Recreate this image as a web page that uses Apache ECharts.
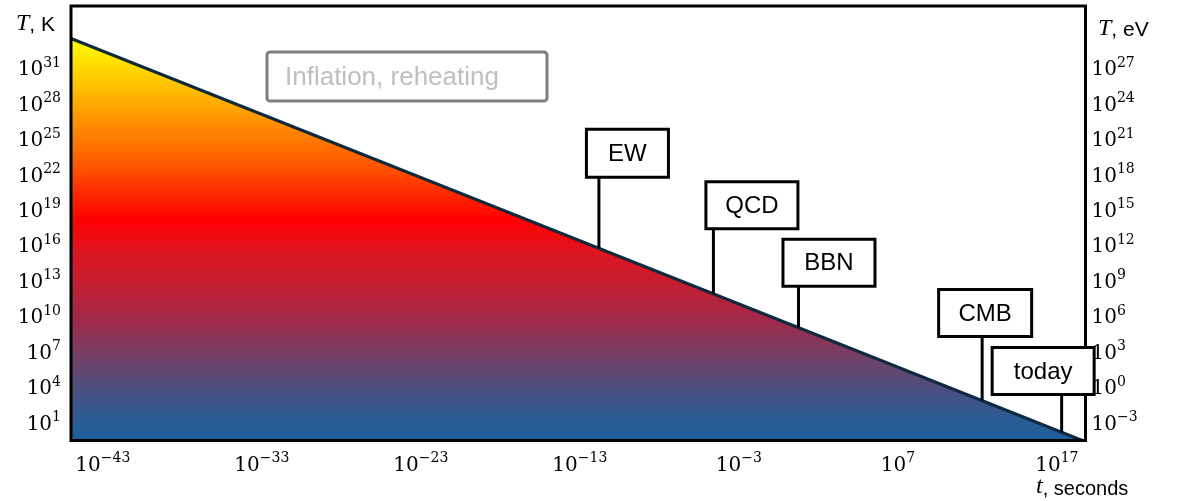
<!DOCTYPE html>
<html>
<head>
<meta charset="utf-8">
<script src="https://cdn.jsdelivr.net/npm/echarts@6/dist/echarts.min.js"></script>
<style>
html,body{margin:0;padding:0;background:#fff;}
#chart{width:1182px;height:501px;}
</style>
</head>
<body>
<div id="chart"></div>
<script>
// ---- data (exponents, log10) ----
const timeTicks = [-43, -33, -23, -13, -3, 7, 17];          // t, seconds
const tempKTicks = [1, 4, 7, 10, 13, 16, 19, 22, 25, 28, 31]; // T, K
const tempEVTicks = [-3, 0, 3, 6, 9, 12, 15, 18, 21, 24, 27]; // T, eV
const coolingTime = [-45, 18.6];     // log10 t
const coolingTemp = [33.5, -0.53];   // log10 T (K)
const eventNames = ['EW', 'QCD', 'BBN', 'CMB', 'today'];
const eventTime = [-11.8, -4.6, 0.75, 12.3, 17.3];
const eventTemp = [15.75, 11.9, 9.05, 2.86, 0.15];
const inflationLabel = 'Inflation, reheating';

// ---- layout / style (pixels) ----
const eventBoxes = [
  {dx: 12.5, w: 82, h: 48, stick: 71},
  {dx: 7.5,  w: 92, h: 47, stick: 65},
  {dx: 15.5, w: 92, h: 47, stick: 41},
  {dx: 43.5, w: 93, h: 47, stick: 64},
  {dx: 69.5, w: 102, h: 47, stick: 38}
];
const K_TO_EV_OFFSET = 4;
const yMin = -0.53, yMax = 36.25;

const sup = v => (v < 0 ? '\u2212' + Math.abs(v) : String(v));
const powLabel = v => '{b|10}{s|' + sup(Math.round(v)) + '}';
const rich = {
  b: {fontFamily: 'DejaVu Serif', fontSize: 20, lineHeight: 24, verticalAlign: 'bottom', color: '#000'},
  s: {fontFamily: 'DejaVu Serif', fontSize: 14, lineHeight: 14, verticalAlign: 'top', color: '#000'}
};

const chart = echarts.init(document.getElementById('chart'), null, {renderer: 'canvas'});

const gradient = new echarts.graphic.LinearGradient(0, 0, 0, 1, [
  {offset: 0.00, color: '#FFFF00'},
  {offset: 0.17, color: '#FFA500'},
  {offset: 0.31, color: '#FF5A00'},
  {offset: 0.45, color: '#FF0000'},
  {offset: 0.53, color: '#DE1420'},
  {offset: 0.62, color: '#C01E32'},
  {offset: 0.70, color: '#A0284A'},
  {offset: 0.79, color: '#744064'},
  {offset: 0.88, color: '#485082'},
  {offset: 0.95, color: '#2A5C96'},
  {offset: 1.00, color: '#1F5F9C'}
]);

chart.setOption({
  animation: false,
  backgroundColor: '#fff',
  grid: {
    left: 71, right: 96.5, top: 6, bottom: 60.5,
    show: true, z: 3, backgroundColor: 'transparent',
    borderColor: '#000', borderWidth: 3
  },
  xAxis: {
    type: 'value', min: -45, max: 18.8,
    axisLine: {show: false}, axisTick: {show: false}, splitLine: {show: false},
    axisLabel: {customValues: timeTicks, margin: 11, formatter: powLabel, rich: rich}
  },
  yAxis: [
    {
      type: 'value', min: yMin, max: yMax, position: 'left',
      axisLine: {show: false}, axisTick: {show: false}, splitLine: {show: false},
      axisLabel: {customValues: tempKTicks, margin: 10, formatter: powLabel, rich: rich}
    },
    {
      type: 'value', min: yMin - K_TO_EV_OFFSET, max: yMax - K_TO_EV_OFFSET, position: 'right',
      axisLine: {show: false}, axisTick: {show: false}, splitLine: {show: false},
      axisLabel: {customValues: tempEVTicks, margin: 6, formatter: powLabel, rich: rich}
    }
  ],
  series: [
    {
      type: 'line',
      data: coolingTime.map((t, i) => [t, coolingTemp[i]]),
      symbol: 'none',
      lineStyle: {color: '#0E2A3F', width: 3},
      areaStyle: {origin: 'start', color: gradient, opacity: 1},
      z: 2
    },
    {
      type: 'custom',
      z: 5,
      clip: false,
      data: eventTime.map((t, i) => [t, eventTemp[i]]),
      renderItem: function (params, api) {
        const p = api.coord([api.value(0), api.value(1)]);
        const L = eventBoxes[params.dataIndex];
        const boxBottom = p[1] - L.stick;
        const left = p[0] - L.dx;
        return {
          type: 'group',
          children: [
            {type: 'line', shape: {x1: p[0], y1: p[1], x2: p[0], y2: boxBottom},
             style: {stroke: '#000', lineWidth: 3}},
            {type: 'rect', shape: {x: left, y: boxBottom - L.h, width: L.w, height: L.h},
             style: {fill: '#fff', stroke: '#000', lineWidth: 3}},
            {type: 'text', style: {
              text: eventNames[params.dataIndex],
              x: left + L.w / 2, y: boxBottom - L.h / 2 + 1,
              align: 'center', verticalAlign: 'middle',
              font: '24px "Liberation Sans", Arial, sans-serif', fill: '#000'}}
          ]
        };
      }
    }
  ],
  graphic: [
    {
      type: 'group', left: 265.5, top: 50.5, z: 10,
      children: [
        {type: 'rect', shape: {x: 0, y: 0, width: 280, height: 49, r: 3},
         style: {fill: '#fff', stroke: '#7F7F7F', lineWidth: 3}},
        {type: 'text', style: {text: inflationLabel, x: 18, y: 26, align: 'left', verticalAlign: 'middle',
         font: '26px "Liberation Sans", Arial, sans-serif', fill: '#BFBFBF'}}
      ]
    },
    {
      type: 'text', left: 16, top: 12, z: 10,
      style: {
        text: '{i|T}{n|, K}',
        rich: {
          i: {fontFamily: 'Liberation Serif', fontStyle: 'italic', fontSize: 24, verticalAlign: 'bottom', lineHeight: 26, fill: '#000'},
          n: {fontFamily: 'Liberation Sans', fontSize: 21, verticalAlign: 'bottom', lineHeight: 26, fill: '#000'}
        }
      }
    },
    {
      type: 'text', left: 1098, top: 17, z: 10,
      style: {
        text: '{i|T}{n|, eV}',
        rich: {
          i: {fontFamily: 'Liberation Serif', fontStyle: 'italic', fontSize: 24, verticalAlign: 'bottom', lineHeight: 26, fill: '#000'},
          n: {fontFamily: 'Liberation Sans', fontSize: 21, verticalAlign: 'bottom', lineHeight: 26, fill: '#000'}
        }
      }
    },
    {
      type: 'text', left: 1036, top: 475, z: 10,
      style: {
        text: '{i|t}{n|, seconds}',
        rich: {
          i: {fontFamily: 'Liberation Serif', fontStyle: 'italic', fontSize: 24, verticalAlign: 'bottom', lineHeight: 26, fill: '#000'},
          n: {fontFamily: 'Liberation Sans', fontSize: 20, verticalAlign: 'bottom', lineHeight: 26, fill: '#000'}
        }
      }
    }
  ]
});
</script>
</body>
</html>
